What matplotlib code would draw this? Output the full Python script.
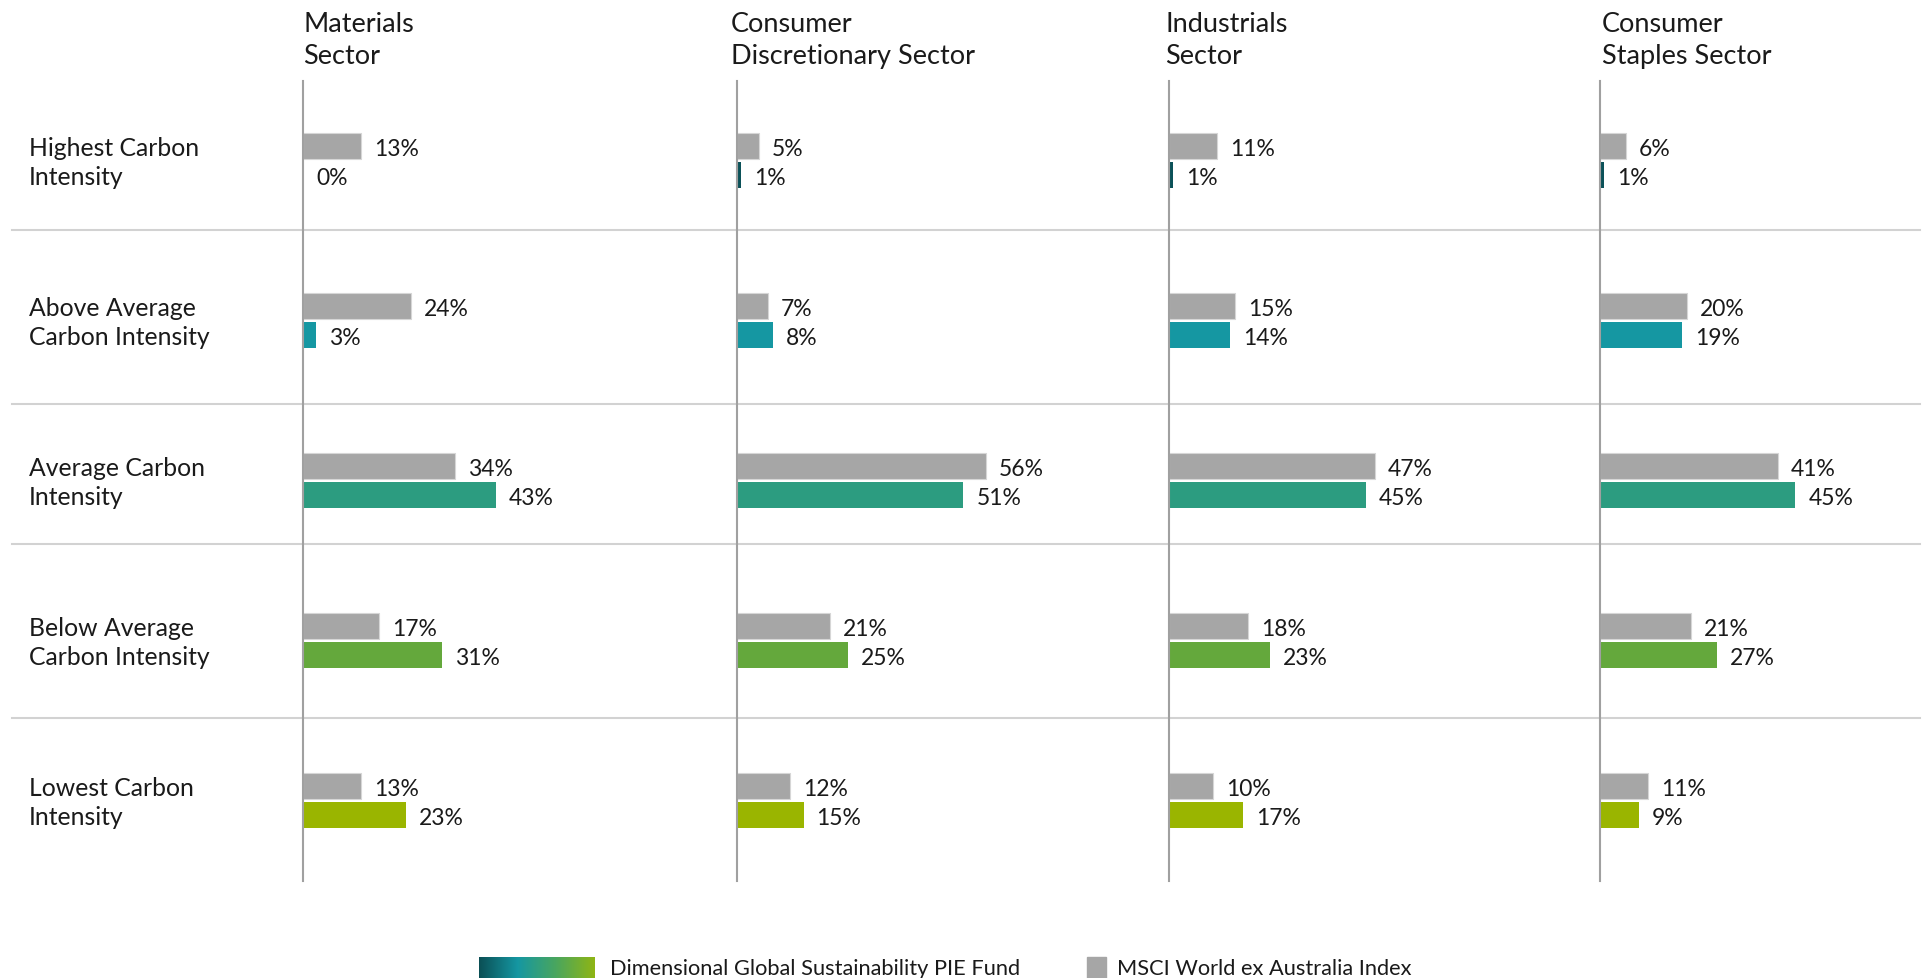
import matplotlib
matplotlib.use("Agg")
import matplotlib.pyplot as plt
import numpy as np
from matplotlib.lines import Line2D
from matplotlib.colors import LinearSegmentedColormap
from matplotlib.patches import Rectangle

# ---------------- data ----------------
sectors = ["Materials\nSector", "Consumer\nDiscretionary Sector",
           "Industrials\nSector", "Consumer\nStaples Sector"]
categories = ["Highest Carbon\nIntensity", "Above Average\nCarbon Intensity",
              "Average Carbon\nIntensity", "Below Average\nCarbon Intensity",
              "Lowest Carbon\nIntensity"]

index_materials = [13, 24, 34, 17, 13]
index_cons_disc = [5, 7, 56, 21, 12]
index_industrials = [11, 15, 47, 18, 10]
index_cons_staples = [6, 20, 41, 21, 11]

fund_materials = [0, 3, 43, 31, 23]
fund_cons_disc = [1, 8, 51, 25, 15]
fund_industrials = [1, 14, 45, 23, 17]
fund_cons_staples = [1, 19, 45, 27, 9]

index_values = [index_materials, index_cons_disc, index_industrials, index_cons_staples]
fund_values = [fund_materials, fund_cons_disc, fund_industrials, fund_cons_staples]

fund_label = "Dimensional Global Sustainability PIE Fund"
index_label = "MSCI World ex Australia Index"

# ---------------- style ----------------
W, H = 1925, 979
FONT = "Lato"
TXT = "#1a1a1a"
GRAY = "#a6a6a6"
fund_colors = ["#0b5158", "#1597a2", "#2c9c80", "#64a83c", "#9ab500"]
px_per_pct = [4.48, 4.44, 4.38, 4.34]

plt.rcParams['font.family'] = [FONT, 'DejaVu Sans']

fig = plt.figure(figsize=(W / 100, H / 100), dpi=100)
fig.patch.set_facecolor("white")


def fx(x):
    return x / W


def fy(y):
    return 1 - y / H


panel_left = [303, 737, 1169, 1600]
title_left = [303, 731, 1165, 1602]
panel_width = [420, 420, 420, 320]
top_px, bot_px = 82, 882
row_center0, row_step = 161.5, 160.0
ylim = ((bot_px - row_center0) / row_step, (top_px - row_center0) / row_step)
off = 14.5 / row_step
bh = 26 / row_step

# separators (drawn first, behind)
for sy in [231, 405, 545, 719]:
    fig.add_artist(Line2D([fx(12), fx(1920)], [fy(sy), fy(sy)],
                          color="#d2d2d2", lw=1.5, zorder=0))

ypos = np.arange(len(categories))
for k in range(len(sectors)):
    x0, w = panel_left[k], panel_width[k]
    ax = fig.add_axes([fx(x0), fy(bot_px), fx(w), (bot_px - top_px) / H])
    ax.set_facecolor("none")
    ax.set_xlim(0, w / px_per_pct[k])
    ax.set_ylim(*ylim)
    for s in ["top", "right", "bottom"]:
        ax.spines[s].set_visible(False)
    ax.spines["left"].set_color("#a0a0a0")
    ax.spines["left"].set_linewidth(1.5)
    ax.set_xticks([])
    ax.set_yticks([])

    gb = ax.barh(ypos - off, index_values[k], height=bh, color=GRAY,
                 edgecolor="#d6d6d6", linewidth=0.8, zorder=2)
    fb = ax.barh(ypos + off, fund_values[k], height=bh, color=fund_colors,
                 linewidth=0, zorder=2)
    for bars, vals in ((gb, index_values[k]), (fb, fund_values[k])):
        for b, v in zip(bars, vals):
            ax.annotate(f"{v}%", (b.get_width(), b.get_y() + b.get_height() / 2),
                        xytext=(13, -2.5), textcoords="offset pixels",
                        ha="left", va="center", fontsize=16.5, color=TXT,
                        annotation_clip=False)

    fig.text(fx(title_left[k]), fy(40.5), sectors[k], ha="left", va="center",
             fontsize=19.5, color=TXT, linespacing=1.36)

for i, c in enumerate(categories):
    fig.text(fx(29), fy(row_center0 + row_step * i + 1.5), c, ha="left", va="center",
             fontsize=17.8, color=TXT, linespacing=1.32)

# ---------------- legend ----------------
cmap = LinearSegmentedColormap.from_list(
    "fund", ["#0b4f55", "#1597a2", "#4aa65e", "#8fb514"])
lax = fig.add_axes([fx(479), fy(979), fx(116), 21 / H])
lax.imshow(np.linspace(0, 1, 256)[None, :], aspect="auto", cmap=cmap)
lax.axis("off")
fig.text(fx(610), fy(969), fund_label, ha="left", va="center",
         fontsize=15.7, color=TXT)
fig.add_artist(Rectangle((fx(1087), fy(979)), fx(19), 21 / H,
                         transform=fig.transFigure, color=GRAY))
fig.text(fx(1117), fy(969), index_label, ha="left", va="center",
         fontsize=15.7, color=TXT)

fig.savefig("out.png", dpi=100)
